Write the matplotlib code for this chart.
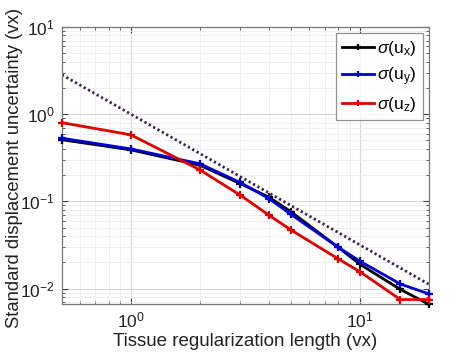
import matplotlib
matplotlib.use("Agg")
import matplotlib.pyplot as plt
from matplotlib.ticker import LogLocator, NullFormatter

plt.rcParams['font.family'] = ['Liberation Sans', 'DejaVu Sans']
plt.rcParams['mathtext.fontset'] = 'custom'
plt.rcParams['mathtext.rm'] = 'Liberation Sans'
plt.rcParams['mathtext.it'] = 'Liberation Sans:italic'

reg_length = [0.5, 1, 2, 3, 4, 5, 8, 10, 15, 20]
sigma_ux = [0.51, 0.39, 0.26, 0.16, 0.112, 0.076, 0.030, 0.019, 0.0098, 0.0066]
sigma_uy = [0.53, 0.40, 0.27, 0.165, 0.108, 0.071, 0.030, 0.0206, 0.0113, 0.0087]
sigma_uz = [0.80, 0.58, 0.23, 0.118, 0.0697, 0.047, 0.0221, 0.0156, 0.0075, 0.0075]
ref_x = [0.5, 20]
ref_y = [2.83, 0.0112]

fig = plt.figure(figsize=(4.74, 3.55), dpi=100)
ax = fig.add_axes([62/474, 1-304/355, (429-62)/474, (304-27)/355])

ax.plot(ref_x, ref_y, linestyle=(0, (0.8, 1.0)), color='#3a2050', lw=2.0, zorder=2)
ax.plot(reg_length, sigma_ux, '-+', color='black', lw=2.0, ms=6, mew=1.6,
        label=r'$\sigma$(u$_\mathregular{x}$)', zorder=3, clip_on=False)
ax.plot(reg_length, sigma_uy, '-+', color='#0000d0', lw=2.0, ms=6, mew=1.6,
        label=r'$\sigma$(u$_\mathregular{y}$)', zorder=3, clip_on=False)
ax.plot(reg_length, sigma_uz, '-+', color='#e00000', lw=2.0, ms=6, mew=1.6,
        label=r'$\sigma$(u$_\mathregular{z}$)', zorder=3, clip_on=False)

ax.set_xscale('log')
ax.set_yscale('log')
ax.set_xlim(0.5, 20)
ax.set_ylim(0.00667, 10)
ax.xaxis.set_major_locator(LogLocator(base=10, numticks=10))
ax.yaxis.set_major_locator(LogLocator(base=10, numticks=10))
ax.xaxis.set_minor_locator(LogLocator(base=10, subs=range(2, 10), numticks=20))
ax.yaxis.set_minor_locator(LogLocator(base=10, subs=range(2, 10), numticks=20))
ax.xaxis.set_minor_formatter(NullFormatter())
ax.yaxis.set_minor_formatter(NullFormatter())

ax.grid(True, which='major', color='#d8d8d8', lw=0.8)
ax.grid(True, which='minor', color='#ececec', lw=0.6)
ax.set_axisbelow(True)
ax.tick_params(which='both', direction='in', top=True, right=True, colors='#444444',
               labelcolor='#222222', labelsize=12.5)
ax.tick_params(which='major', length=4, pad=5)
ax.tick_params(which='minor', length=2)
for s in ax.spines.values():
    s.set_color('#777777')
    s.set_linewidth(0.9)

ax.set_xlabel('Tissue regularization length (vx)', fontsize=13.5, color='#222222')
ax.set_ylabel('Standard displacement uncertainty (vx)', fontsize=13.3, color='#222222')
ax.xaxis.set_label_coords(0.5, -0.105)
ax.yaxis.set_label_coords(-0.105, 0.49)

leg = ax.legend(loc='upper right', fontsize=12.5, frameon=True, fancybox=False,
                edgecolor='#777777', handlelength=1.85, borderaxespad=0.35,
                labelspacing=0.4, handletextpad=0.2, borderpad=0.35,
                markerscale=0.7)
leg.get_frame().set_linewidth(0.9)

fig.savefig('out.png', dpi=100)
